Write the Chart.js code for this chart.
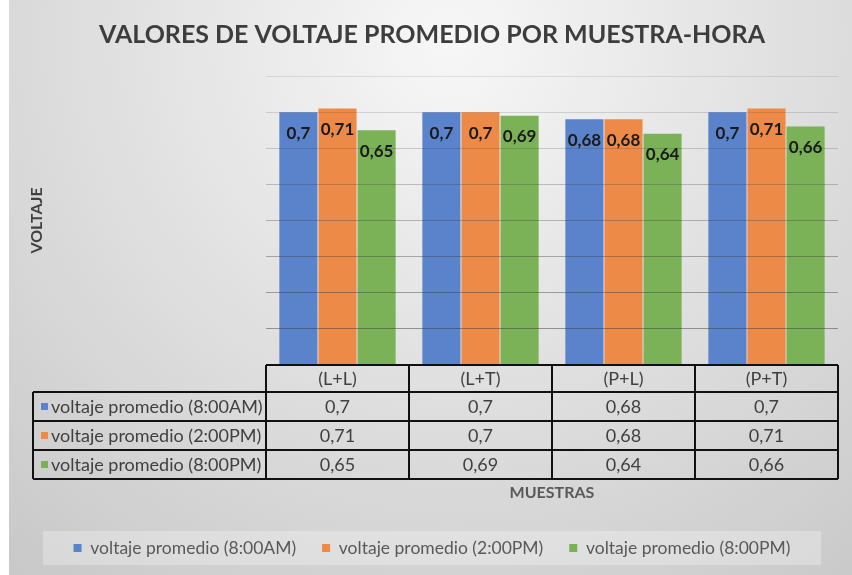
<!DOCTYPE html>
<html><head><meta charset="utf-8">
<script src="https://cdn.jsdelivr.net/npm/chart.js@4.4.1/dist/chart.umd.min.js"></script>
<style>html,body{margin:0;padding:0;background:#fff}#wrap{width:852px;height:575px}</style>
</head><body><div id="wrap"><canvas id="c" width="852" height="575"></canvas></div>
<script>
const chartTitle = 'VALORES DE VOLTAJE PROMEDIO POR MUESTRA-HORA';
const categories = ['(L+L)', '(L+T)', '(P+L)', '(P+T)'];
const seriesNames = ['voltaje promedio (8:00AM)', 'voltaje promedio (2:00PM)', 'voltaje promedio (8:00PM)'];
const voltaje8am = [0.7, 0.7, 0.68, 0.7];
const voltaje2pm = [0.71, 0.7, 0.68, 0.71];
const voltaje8pm = [0.65, 0.69, 0.64, 0.66];
const yMin = 0, yMax = 0.8, yStep = 0.1;
const seriesColors = ['#5A83CB', '#EE8A48', '#7BB257'];
const seriesValues = [voltaje8am, voltaje2pm, voltaje8pm];

const fmt = v => String(v).replace('.', ',');
const FONT = 'Lato, "Noto Sans", sans-serif';

const bgPlugin = {
  id: 'bg',
  beforeDraw(chart) {
    const c = chart.ctx, W = chart.width, H = chart.height;
    c.save();
    c.fillStyle = '#ffffff'; c.fillRect(0, 0, W, H);
    const g = c.createRadialGradient(450, 40, 0, 450, 40, 680);
    g.addColorStop(0, '#f7f7f7');
    g.addColorStop(1, '#c9c9c9');
    c.fillStyle = g; c.fillRect(9, 0, W - 9, H);
    c.fillStyle = 'rgba(255,255,255,0.28)';
    c.fillRect(43, 531, 778, 34);
    c.restore();
  }
};

const labelPlugin = {
  id: 'valueLabels',
  afterDraw(chart) {
    const c = chart.ctx;
    c.save();
    c.font = 'bold 17px ' + FONT;
    c.fillStyle = '#1a1a1a';
    c.textAlign = 'center';
    c.textBaseline = 'middle';
    chart.data.datasets.forEach((ds, di) => {
      const meta = chart.getDatasetMeta(di);
      meta.data.forEach((bar, i) => {
        c.fillText(fmt(ds.data[i]), bar.x, bar.y + 21);
      });
    });
    c.restore();
  }
};

const tablePlugin = {
  id: 'dataTable',
  afterDraw(chart) {
    const c = chart.ctx, xs = chart.scales.x, area = chart.chartArea;
    const n = categories.length;
    const colW = area.width / n;
    const top = area.bottom, headH = 27, rowH = 29;
    const left = 33, right = area.right;
    const bottom = top + headH + rowH * seriesNames.length;
    c.save();
    c.font = '18px ' + FONT;
    c.fillStyle = '#404040';
    c.textBaseline = 'middle';
    c.textAlign = 'center';
    categories.forEach((cat, i) => {
      c.fillText(cat, xs.getPixelForValue(i), top + headH / 2 + 1);
    });
    seriesNames.forEach((name, r) => {
      const cy = top + headH + rowH * r + rowH / 2;
      c.fillStyle = seriesColors[r];
      c.fillRect(41, cy - 3.5, 7, 7);
      c.fillStyle = '#404040';
      c.textAlign = 'left';
      c.fillText(name, 51, cy + 1);
      c.textAlign = 'center';
      seriesValues[r].forEach((v, i) => c.fillText(fmt(v), xs.getPixelForValue(i), cy + 1));
    });
    c.strokeStyle = '#111';
    c.lineWidth = 2;
    c.beginPath();
    c.moveTo(area.left, top); c.lineTo(right, top);
    for (let r = 0; r <= seriesNames.length; r++) {
      const y = top + headH + rowH * r;
      c.moveTo(left, y); c.lineTo(right, y);
    }
    for (let i = 0; i <= n; i++) {
      const x = area.left + colW * i;
      c.moveTo(x, top); c.lineTo(x, bottom);
    }
    c.moveTo(left, top + headH); c.lineTo(left, bottom);
    c.stroke();
    c.restore();
  }
};

new Chart(document.getElementById('c'), {
  type: 'bar',
  data: {
    labels: categories,
    datasets: seriesNames.map((name, k) => ({
      label: name,
      data: seriesValues[k],
      backgroundColor: seriesColors[k],
      borderWidth: 0,
      barPercentage: 0.975,
      categoryPercentage: 0.82
    }))
  },
  options: {
    responsive: false,
    animation: false,
    devicePixelRatio: 1,
    layout: { padding: { top: 0, left: 26, right: 14, bottom: 8.25 } },
    plugins: {
      title: {
        display: true,
        text: chartTitle,
        color: '#3d3d3d',
        font: { family: FONT, size: 25, weight: 'bold' },
        padding: { top: 20, bottom: 26 }
      },
      legend: {
        position: 'bottom',
        labels: { boxWidth: 8, boxHeight: 8, color: '#595959', padding: 26, font: { family: FONT, size: 17.5 } }
      },
      tooltip: { enabled: false }
    },
    scales: {
      x: {
        grid: { display: false, drawTicks: false },
        border: { display: false },
        ticks: { display: false },
        title: { display: true, text: 'MUESTRAS', color: '#595959', font: { family: FONT, size: 16, weight: 'bold' }, padding: { top: 118.4, bottom: 10.65 } }
      },
      y: {
        min: yMin, max: yMax,
        ticks: { display: false, stepSize: yStep },
        border: { display: false },
        grid: {
          drawTicks: false, z: 1, lineWidth: 1,
          color: ctx => {
            const v = ctx.tick ? ctx.tick.value : 0;
            if (v <= 0) return 'rgba(0,0,0,0)';
            const a = 0.12 + (yMax - v) / yMax * 0.42;
            return 'rgba(60,60,60,' + a.toFixed(3) + ')';
          }
        },
        title: { display: true, text: 'VOLTAJE', color: '#404040', font: { family: FONT, size: 16, weight: 'bold' }, padding: { top: 1.4, bottom: 219.4 } }
      }
    }
  },
  plugins: [bgPlugin, labelPlugin, tablePlugin]
});
</script></body></html>
